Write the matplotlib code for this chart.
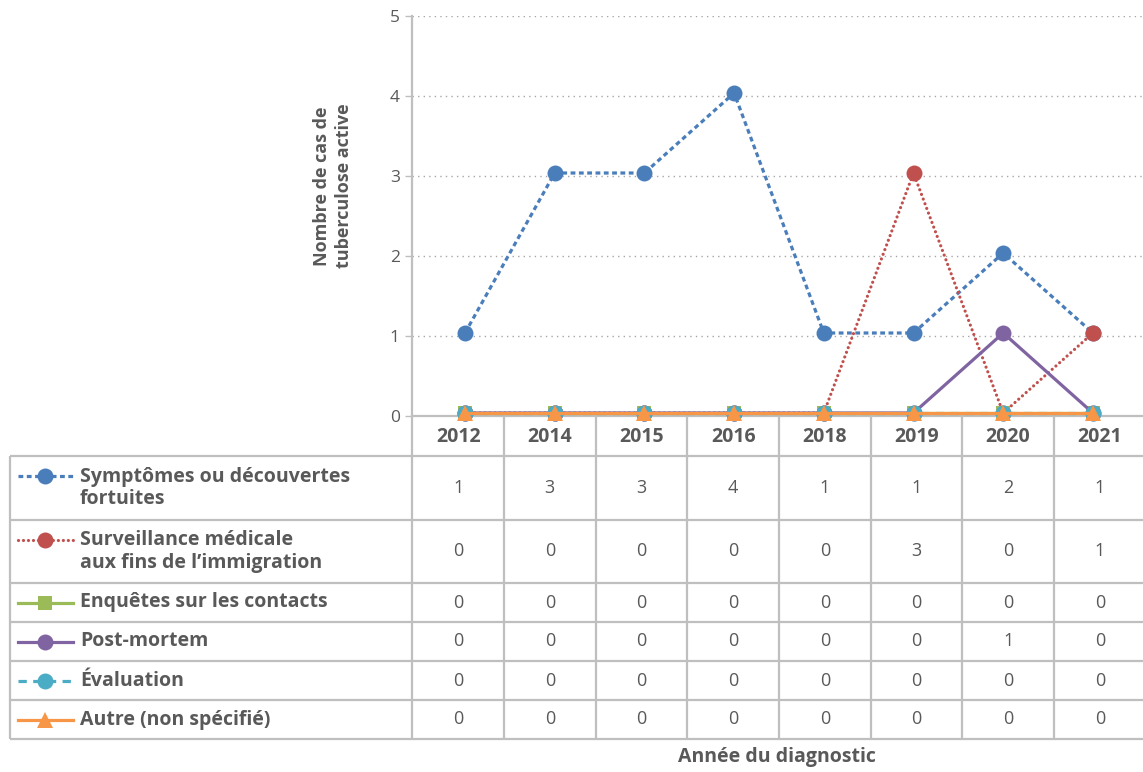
import matplotlib
matplotlib.use("Agg")
import matplotlib.pyplot as plt
from matplotlib.transforms import ScaledTranslation

plt.rcParams['font.family'] = ['Open Sans', 'DejaVu Sans']

# ---- data ----
years = ['2012', '2014', '2015', '2016', '2018', '2019', '2020', '2021']
series_names = [
    'Symptômes ou découvertes\nfortuites',
    'Surveillance médicale\naux fins de l’immigration',
    'Enquêtes sur les contacts',
    'Post-mortem',
    'Évaluation',
    'Autre (non spécifié)',
]
symptomes = [1, 3, 3, 4, 1, 1, 2, 1]
surveillance = [0, 0, 0, 0, 0, 3, 0, 1]
enquetes = [0, 0, 0, 0, 0, 0, 0, 0]
post_mortem = [0, 0, 0, 0, 0, 0, 1, 0]
evaluation = [0, 0, 0, 0, 0, 0, 0, 0]
autre = [0, 0, 0, 0, 0, 0, 0, 0]
y_ticks = [0, 1, 2, 3, 4, 5]
y_label = 'Nombre de cas de\ntuberculose active'
x_label = 'Année du diagnostic'

all_series = [symptomes, surveillance, enquetes, post_mortem, evaluation, autre]

# ---- styles ----
styles = [
    dict(color='#4A7EBB', ls=(0, (1.5, 1.1)), marker='o', ms=11.5, lw=2.3, cap='butt'),
    dict(color='#C0504D', ls=(0, (0.01, 1.55)), marker='o', ms=11.5, lw=2.3, cap='round'),
    dict(color='#9BBB59', ls='-', marker='s', ms=10.5, lw=2.3, cap='butt'),
    dict(color='#8064A2', ls='-', marker='o', ms=11.5, lw=2.3, cap='butt'),
    dict(color='#4BACC6', ls=(0, (2.6, 2.0)), marker='o', ms=11.5, lw=2.3, cap='butt'),
    dict(color='#F79646', ls='-', marker='^', ms=11.5, lw=2.3, cap='butt'),
]
GRID = '#BFBFBF'
TXT = '#595959'
W, H = 1143, 772
FS_B = 14

fig = plt.figure(figsize=(W / 100, H / 100), dpi=100)

# overlay axes in pixel coordinates (table + legend)
ov = fig.add_axes([0, 0, 1, 1])
ov.set_xlim(0, W)
ov.set_ylim(H, 0)
ov.axis('off')

# plot axes
ax_left, ax_right, ax_top, ax_bot = 412.3, 1143, 16, 416
ax = fig.add_axes([ax_left / W, (H - ax_bot) / H, (ax_right - ax_left) / W, (ax_bot - ax_top) / H])
ax.patch.set_visible(False)
m0, step = 465.0, 89.7
ax.set_xlim((ax_left - m0) / step, (ax_right - m0) / step)
ax.set_ylim(0, 5)
xs = list(range(len(years)))
lift = ax.transData + ScaledTranslation(0, 3 / 100, fig.dpi_scale_trans)
for data, st in zip(all_series, styles):
    ax.plot(xs, data, color=st['color'], linestyle=st['ls'], lw=st['lw'],
            marker=st['marker'], markersize=st['ms'], markeredgewidth=0,
            clip_on=False, dash_capstyle=st['cap'], solid_capstyle='butt',
            transform=lift, zorder=3)
ax.set_yticks(y_ticks)
ax.set_yticklabels([str(v) for v in y_ticks], fontsize=12.5, color=TXT)
ax.set_xticks([])
ax.tick_params(axis='y', direction='out', length=5, width=1, color=GRID, pad=4)
ax.yaxis.grid(True, linestyle=(0, (1, 3)), color='#A6A6A6', lw=1)
ax.set_axisbelow(True)
for s in ['top', 'right']:
    ax.spines[s].set_visible(False)
ax.spines['left'].set_color(GRID)
ax.spines['left'].set_linewidth(1.6)
ax.spines['bottom'].set_color(GRID)
ax.spines['bottom'].set_linewidth(1.6)

# ---- table ----
row_edges = [456, 520, 583, 622, 661, 700, 739]
col_w = 91.67
col_edges = [ax_left + i * col_w for i in range(len(years) + 1)]
lkw = dict(color=GRID, lw=1.6, solid_capstyle='butt')
for y in row_edges:
    ov.plot([10, W], [y, y], **lkw)
ov.plot([10, 10], [456, 739], **lkw)
ov.plot([ax_left, ax_left], [416, 739], **lkw)
for x in col_edges[1:]:
    ov.plot([x, x], [416, 739], **lkw)

# header years
for i, yr in enumerate(years):
    cx = col_edges[i] + col_w / 2
    ov.text(cx, 437, yr, ha='center', va='center', fontsize=FS_B,
            fontweight='bold', color=TXT)

# rows
for r, (name, data, st) in enumerate(zip(series_names, all_series, styles)):
    top, bot = row_edges[r], row_edges[r + 1]
    cy = (top + bot) / 2
    for i, v in enumerate(data):
        cx = col_edges[i] + col_w / 2
        ov.text(cx, cy, str(v), ha='center', va='center', fontsize=13, color=TXT)
    nlines = name.count('\n') + 1
    first_y = cy - (nlines - 1) * 12
    ov.plot([18, 45, 73], [first_y] * 3, color=st['color'], linestyle=st['ls'],
            lw=st['lw'], marker=st['marker'], markersize=st['ms'],
            markeredgewidth=0, markevery=[1], dash_capstyle=st['cap'])
    ov.text(80, cy, name, ha='left', va='center', fontsize=FS_B,
            fontweight='bold', color=TXT, linespacing=1.15)

# axis titles
ov.text(333, 186, y_label, rotation=90, ha='center', va='center', fontsize=13,
        fontweight='bold', color=TXT, linespacing=1.35)
ov.text(777, 757, x_label, ha='center', va='center', fontsize=FS_B,
        fontweight='bold', color=TXT)

fig.savefig('out.png', dpi=100)
